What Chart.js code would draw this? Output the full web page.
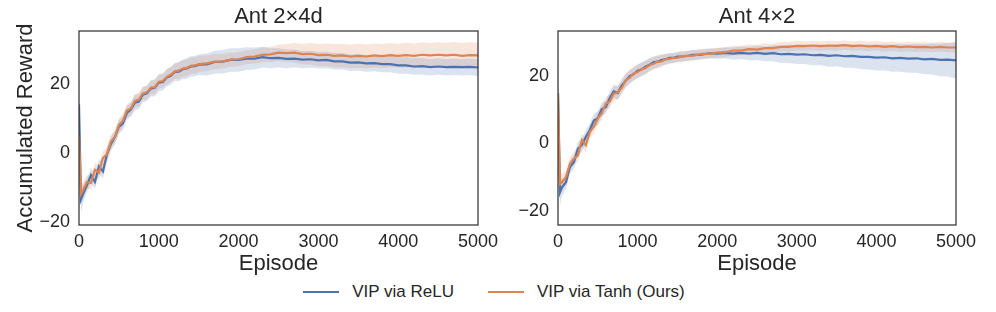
<!DOCTYPE html>
<html>
<head>
<meta charset="utf-8">
<script src="https://cdn.jsdelivr.net/npm/chart.js@4"></script>
<style>
  body { margin: 0; background: #fff; width: 996px; height: 312px; overflow: hidden; position: relative; font-family: "Liberation Sans", Arial, sans-serif; }
  .panel { position: absolute; top: 0; }
  .title { position: absolute; top: 3px; color: #262626; font-size: 22px; text-align: center; }
  #legend { position: absolute; top: 282px; left: -4px; width: 996px; display: flex; justify-content: center; color: #262626; font-size: 17px; }
  .item { display: flex; align-items: center; margin: 0 17px; }
  .swatch { width: 36px; height: 2px; margin-right: 13px; }
</style>
</head>
<body>
<div class="panel" style="left:0"><canvas id="left" width="500" height="280"></canvas></div>
<div class="panel" style="left:500px"><canvas id="right" width="482" height="280"></canvas></div>
<div class="title" style="left:79px;width:399px">Ant 2×4d</div>
<div class="title" style="left:558px;width:398px">Ant 4×2</div>
<div id="legend">
  <div class="item"><span class="swatch" style="background:#4C72B0"></span>VIP via ReLU</div>
  <div class="item"><span class="swatch" style="background:#DD8452"></span>VIP via Tanh (Ours)</div>
</div>
<script>
const episodes = [0, 25, 50, 100, 150, 200, 250, 300, 350, 400, 450, 500, 550, 600, 650, 700, 750, 800, 850, 900, 950,
  1000, 1050, 1100, 1150, 1200, 1250, 1300, 1350, 1400, 1450, 1500, 1600, 1700, 1800, 1900, 2000, 2100, 2200, 2300, 2400,
  2500, 2600, 2700, 2800, 2900, 3000, 3100, 3200, 3300, 3400, 3500, 3600, 3700, 3800, 3900, 4000, 4100, 4200, 4300, 4400,
  4500, 4600, 4700, 4800, 4900, 5000];

// Ant 2x4d
const leftRelu = [14, -13.5, -12, -9.5, -6.5, -8.5, -4, -5.5, -0.5, 2.5, 4.5, 7.5, 8.5, 11.5, 12.5, 14.5, 14.8, 16.8, 17.2, 18.6, 18.8,
  20.3, 20.5, 21.8, 22.3, 23.4, 23.5, 24.2, 24.4, 25, 25.1, 25.5, 25.6, 26.3, 26.4, 26.9, 26.9, 27.3, 27.3, 27.7, 27.4,
  27.5, 27.2, 27.3, 27, 27.1, 26.8, 26.9, 26.5, 26.5, 26.1, 26.2, 25.9, 26, 25.7, 25.7, 25.3, 25.3, 25, 25.1, 24.8,
  25, 24.8, 24.9, 24.8, 24.9, 24.7];
const leftReluStd = [8, 4, 2.5, 2, 2.2, 2, 2.2, 2, 2.2, 2, 2, 2, 2, 2, 2, 2.2, 2.2, 2.2, 2.2, 2.3, 2.5,
  2.5, 2.5, 2.5, 2.6, 2.6, 2.8, 2.8, 3, 3, 3, 3, 3.2, 3.3, 3.4, 3.4, 3.4, 3.3, 3.2, 3, 2.9,
  2.8, 2.7, 2.6, 2.5, 2.5, 2.4, 2.4, 2.4, 2.4, 2.4, 2.4, 2.4, 2.4, 2.4, 2.4, 2.4, 2.4, 2.4, 2.4, 2.4,
  2.4, 2.4, 2.4, 2.4, 2.4, 2.5];
const leftTanh = [5, -12, -11, -8.5, -8.8, -5, -5.8, -1.5, -0.5, 3.2, 4.5, 8, 9.2, 12.2, 12.8, 15, 15.4, 17.2, 17.5, 18.9, 19,
  20.6, 20.8, 22, 22.6, 23.6, 23.8, 24.4, 24.6, 25.2, 25.3, 25.7, 25.9, 26.4, 26.5, 27, 27.1, 27.7, 27.9, 28.4, 28.5,
  29, 28.9, 29, 28.6, 28.7, 28.3, 28.4, 28.1, 28.2, 27.9, 28.1, 27.9, 28.2, 28, 28.3, 28.1, 28.3, 28.1, 28.4, 28.2,
  28.4, 28.2, 28.4, 28.1, 28.3, 28.2];
const leftTanhStd = [6, 3, 2.5, 2, 2, 2, 2.2, 2, 2, 2, 2, 2, 2, 2, 2, 2, 2, 2, 2, 2, 2,
  2, 2, 2.2, 2.2, 2.2, 2.4, 2.4, 2.4, 2.4, 2.4, 2.4, 2.3, 2.2, 2.1, 2, 2, 2, 2, 2.1, 2.2,
  2.4, 2.6, 2.8, 3, 3.1, 3.2, 3.3, 3.4, 3.4, 3.4, 3.5, 3.5, 3.5, 3.5, 3.5, 3.5, 3.6, 3.6, 3.6, 3.6,
  3.6, 3.7, 3.7, 3.7, 3.7, 3.7];

// Ant 4x2
const rightRelu = [15, -14.5, -13, -11.5, -7, -5.5, -1.5, -0.5, 2, 4, 6.8, 7.5, 10.2, 10.8, 13.5, 15.5, 15, 17.2, 18.6, 20, 20.6,
  21.6, 22, 22.8, 23.4, 24.1, 24.3, 24.8, 25, 25.4, 25.4, 25.8, 25.9, 26.3, 26.4, 26.8, 26.7, 26.9, 26.7, 26.9, 26.7,
  26.9, 26.6, 26.8, 26.5, 26.6, 26.4, 26.5, 26.2, 26.3, 26, 26.2, 25.9, 26, 25.7, 25.7, 25.5, 25.6, 25.3, 25.4, 25.2,
  25.3, 25, 25.1, 24.8, 24.9, 24.7];
const rightReluStd = [10, 4, 2.5, 2, 2, 2, 2, 2, 2, 2, 2, 2, 2, 2, 2, 2, 2, 2, 2, 2, 2,
  2, 2, 2, 1.8, 1.8, 1.8, 1.6, 1.6, 1.5, 1.5, 1.5, 1.5, 1.5, 1.5, 1.5, 1.6, 1.7, 1.8, 1.9, 2,
  2.1, 2.2, 2.4, 2.6, 2.7, 2.8, 2.9, 3, 3.1, 3.2, 3.3, 3.4, 3.5, 3.6, 3.7, 3.8, 3.9, 4, 4.1, 4.2,
  4.3, 4.4, 4.6, 4.8, 5, 5.4];
const rightTanh = [15, -12, -11.5, -10, -6, -4.5, -3.5, 1, -0.5, 3.5, 5, 7.5, 9, 11.8, 12.5, 14.8, 15.2, 16.5, 18.8, 19.5, 20.8,
  21.2, 22.1, 22.4, 23.3, 23.7, 24.3, 24.4, 25, 25.1, 25.4, 25.5, 26, 26.1, 26.6, 26.6, 27, 27.1, 27.6, 27.6, 28,
  27.9, 28.3, 28.3, 28.7, 28.7, 29, 28.9, 29.1, 28.9, 29.1, 29, 29.2, 28.9, 29.1, 28.8, 29, 28.7, 28.9, 28.6, 28.8,
  28.6, 28.7, 28.5, 28.7, 28.5, 28.5];
const rightTanhStd = [8, 3, 2.5, 2, 2, 2, 2, 2, 2, 2, 2, 2, 2, 2, 2, 2, 2, 2, 2, 2, 2,
  2, 2, 2, 2, 1.8, 1.8, 1.8, 1.6, 1.6, 1.5, 1.5, 1.5, 1.5, 1.4, 1.4, 1.4, 1.4, 1.4, 1.4, 1.4,
  1.4, 1.4, 1.4, 1.4, 1.4, 1.4, 1.4, 1.4, 1.4, 1.4, 1.4, 1.4, 1.4, 1.4, 1.4, 1.4, 1.4, 1.4, 1.4, 1.4,
  1.4, 1.4, 1.4, 1.4, 1.4, 1.4];

const BLUE = "#4C72B0";
const ORANGE = "#DD8452";
const TEXT = "#262626";

Chart.defaults.font.family = "'Liberation Sans', Arial, sans-serif";
Chart.defaults.color = TEXT;

const pts = (vals, off, sign) => episodes.map((e, i) => ({ x: e, y: vals[i] + (off ? sign * off[i] : 0) }));

function bandSets(mean, std, fillColor) {
  return [
    { data: pts(mean, std, -1), borderWidth: 0, pointRadius: 0, fill: false, order: 3 },
    { data: pts(mean, std, 1), borderWidth: 0, pointRadius: 0, fill: "-1", backgroundColor: fillColor, order: 3 },
  ];
}

const frame = {
  id: "frame",
  afterDraw(chart) {
    const { ctx, chartArea: a } = chart;
    ctx.save();
    ctx.strokeStyle = "#333";
    ctx.lineWidth = 1.25;
    ctx.strokeRect(a.left, a.top, a.right - a.left, a.bottom - a.top);
    ctx.restore();
  },
};

const fmt = (v) => (v < 0 ? "\u2212" + Math.abs(v) : String(v));

function makeChart(id, relu, reluStd, tanh, tanhStd, yMin, yMax, yWidth, padRight, showYTitle) {
  return new Chart(document.getElementById(id), {
    type: "line",
    data: {
      datasets: [
        ...bandSets(relu, reluStd, "rgba(76,114,176,0.2)"),
        ...bandSets(tanh, tanhStd, "rgba(221,132,82,0.2)"),
        { data: pts(relu), borderColor: BLUE, borderWidth: 2.2, pointRadius: 0, fill: false, order: 2 },
        { data: pts(tanh), borderColor: ORANGE, borderWidth: 2.2, pointRadius: 0, fill: false, order: 1 },
      ],
    },
    options: {
      responsive: false,
      animation: false,
      layout: { padding: { right: padRight, left: 0, top: 31, bottom: 0 } },
      plugins: { legend: { display: false }, tooltip: { enabled: false } },
      scales: {
        x: {
          type: "linear",
          min: 0,
          max: 5000,
          grid: { display: false, drawTicks: false },
          border: { display: false },
          ticks: { stepSize: 1000, padding: 6, color: TEXT, font: { size: 18 }, maxRotation: 0, callback: fmt },
          title: { display: true, text: "Episode", color: TEXT, font: { size: 22 }, padding: { top: 0, bottom: 3 } },
          afterFit(s) { s.height = 55; s.paddingLeft = 0; s.paddingRight = 0; },
        },
        y: {
          min: yMin,
          max: yMax,
          grid: { display: false, drawTicks: false },
          border: { display: false },
          ticks: { stepSize: 20, includeBounds: false, padding: 9, color: TEXT, font: { size: 18 }, callback: fmt },
          title: { display: showYTitle, text: "Accumulated Reward", color: TEXT, font: { size: 22 }, padding: { top: 13 } },
          afterFit(s) { s.width = yWidth; s.paddingTop = 0; s.paddingBottom = 0; },
        },
      },
    },
    plugins: [frame],
  });
}

makeChart("left", leftRelu, leftReluStd, leftTanh, leftTanhStd, -21, 35.3, 79, 22, true);
makeChart("right", rightRelu, rightReluStd, rightTanh, rightTanhStd, -24.2, 33.4, 58, 26, false);
</script>
</body>
</html>
